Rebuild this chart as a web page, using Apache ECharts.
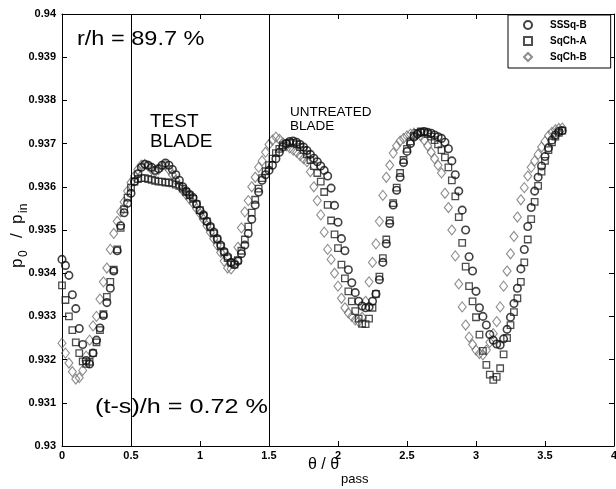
<!DOCTYPE html>
<html><head><meta charset="utf-8">
<script src="https://cdn.jsdelivr.net/npm/echarts@6/dist/echarts.min.js"></script>
<style>html,body{margin:0;padding:0;background:#fff}#c{width:616px;height:489px}</style>
</head><body><div id="c"></div>
<script>
// theta / theta_pass sample positions
const theta = [
0,0.025,0.05,0.075,0.1,0.125,0.15,0.175,0.2,0.225,
0.25,0.275,0.3,0.325,0.35,0.375,0.4,0.425,0.45,0.475,
0.5,0.525,0.55,0.575,0.6,0.625,0.65,0.675,0.7,0.725,
0.75,0.775,0.8,0.825,0.85,0.875,0.9,0.925,0.95,0.975,
1,1.025,1.05,1.075,1.1,1.125,1.15,1.175,1.2,1.225,
1.25,1.275,1.3,1.325,1.35,1.375,1.4,1.425,1.45,1.475,
1.5,1.525,1.55,1.575,1.6,1.625,1.65,1.675,1.7,1.725,
1.75,1.775,1.8,1.825,1.85,1.875,1.9,1.925,1.95,1.975,
2,2.025,2.05,2.075,2.1,2.125,2.15,2.175,2.2,2.225,
2.25,2.275,2.3,2.325,2.35,2.375,2.4,2.425,2.45,2.475,
2.5,2.525,2.55,2.575,2.6,2.625,2.65,2.675,2.7,2.725,
2.75,2.775,2.8,2.825,2.85,2.875,2.9,2.925,2.95,2.975,
3,3.025,3.05,3.075,3.1,3.125,3.15,3.175,3.2,3.225,
3.25,3.275,3.3,3.325,3.35,3.375,3.4,3.425,3.45,3.475,
3.5,3.525,3.55,3.575,3.6,3.625];

// p0/pin, SSSq-B (circles)
const sssqB = [
0.93432,0.93418,0.93395,0.93350,0.93318,0.93272,0.93235,0.93198,0.93190,0.93215,
0.93245,0.93273,0.93302,0.93332,0.93365,0.93405,0.93452,0.93510,0.93540,0.93562,
0.93585,0.93612,0.93630,0.93645,0.93652,0.93650,0.93645,0.93638,0.93642,0.93650,
0.93655,0.93650,0.93640,0.93628,0.93615,0.93600,0.93590,0.93582,0.93575,0.93560,
0.93545,0.93535,0.93520,0.93508,0.93495,0.93480,0.93465,0.93450,0.93438,0.93425,
0.93420,0.93428,0.93445,0.93465,0.93492,0.93525,0.93558,0.93588,0.93615,0.93628,
0.93638,0.93650,0.93665,0.93680,0.93692,0.93700,0.93705,0.93706,0.93703,0.93698,
0.93692,0.93684,0.93675,0.93666,0.93658,0.93648,0.93638,0.93625,0.93597,0.93557,
0.93518,0.93480,0.93452,0.93408,0.93378,0.93355,0.93335,0.93324,0.93320,0.93322,
0.93335,0.93352,0.93385,0.93425,0.93468,0.93515,0.93558,0.93592,0.93622,0.93656,
0.93682,0.93700,0.93715,0.93722,0.93726,0.93728,0.93726,0.93724,0.93720,0.93716,
0.93712,0.93703,0.93688,0.93660,0.93628,0.93590,0.93546,0.93500,0.93438,0.93405,
0.93358,0.93320,0.93300,0.93280,0.93258,0.93245,0.93236,0.93234,0.93248,0.93270,
0.93298,0.93330,0.93365,0.93410,0.93455,0.93508,0.93552,0.93590,0.93622,0.93648,
0.93670,0.93690,0.93708,0.93720,0.93728,0.93730];

// p0/pin, SqCh-A (squares)
const sqchA = [
0.93372,0.93338,0.93300,0.93268,0.93240,0.93215,0.93196,0.93190,0.93195,0.93215,
0.93240,0.93268,0.93305,0.93345,0.93380,0.93408,0.93455,0.93505,0.93548,0.93575,
0.93598,0.93612,0.93618,0.93620,0.93620,0.93618,0.93616,0.93614,0.93612,0.93612,
0.93610,0.93610,0.93608,0.93605,0.93602,0.93596,0.93588,0.93580,0.93572,0.93560,
0.93546,0.93533,0.93520,0.93506,0.93492,0.93478,0.93462,0.93448,0.93435,0.93424,
0.93420,0.93430,0.93452,0.93478,0.93508,0.93540,0.93570,0.93596,0.93620,0.93636,
0.93650,0.93665,0.93678,0.93688,0.93696,0.93700,0.93702,0.93701,0.93698,0.93692,
0.93685,0.93675,0.93662,0.93648,0.93632,0.93612,0.93588,0.93558,0.93522,0.93490,
0.93458,0.93420,0.93388,0.93358,0.93335,0.93312,0.93295,0.93283,0.93282,0.93295,
0.93320,0.93352,0.93392,0.93435,0.93478,0.93522,0.93562,0.93598,0.93632,0.93662,
0.93688,0.93705,0.93718,0.93725,0.93728,0.93726,0.93722,0.93716,0.93708,0.93698,
0.93685,0.93668,0.93645,0.93615,0.93578,0.93530,0.93470,0.93415,0.93370,0.93335,
0.93298,0.93258,0.93220,0.93188,0.93165,0.93153,0.93160,0.93180,0.93212,0.93250,
0.93280,0.93310,0.93342,0.93380,0.93425,0.93478,0.93525,0.93565,0.93602,0.93635,
0.93660,0.93685,0.93703,0.93716,0.93725,0.93730];

// p0/pin, SqCh-B (diamonds)
const sqchB = [
0.93238,0.93215,0.93192,0.93172,0.93155,0.93158,0.93175,0.93208,0.93245,0.93278,
0.93300,0.93340,0.93380,0.93412,0.93455,0.93492,0.93520,0.93542,0.93565,0.93590,
0.93610,0.93625,0.93640,0.93650,0.93652,0.93648,0.93640,0.93635,0.93640,0.93648,
0.93650,0.93640,0.93628,0.93615,0.93602,0.93592,0.93582,0.93572,0.93562,0.93550,
0.93538,0.93525,0.93510,0.93495,0.93480,0.93465,0.93448,0.93428,0.93412,0.93410,
0.93425,0.93460,0.93505,0.93542,0.93568,0.93600,0.93622,0.93645,0.93660,0.93680,
0.93698,0.93708,0.93715,0.93710,0.93702,0.93695,0.93690,0.93685,0.93680,0.93672,
0.93665,0.93658,0.93635,0.93600,0.93568,0.93535,0.93495,0.93455,0.93432,0.93400,
0.93370,0.93342,0.93320,0.93308,0.93300,0.93292,0.93288,0.93298,0.93335,0.93380,
0.93425,0.93468,0.93520,0.93580,0.93622,0.93650,0.93678,0.93695,0.93706,0.93712,
0.93718,0.93722,0.93724,0.93722,0.93718,0.93708,0.93695,0.93680,0.93665,0.93650,
0.93632,0.93585,0.93552,0.93500,0.93440,0.93375,0.93322,0.93280,0.93252,0.93235,
0.93222,0.93214,0.93211,0.93222,0.93240,0.93260,0.93288,0.93322,0.93370,0.93405,
0.93445,0.93485,0.93530,0.93570,0.93598,0.93625,0.93645,0.93660,0.93675,0.93692,
0.93705,0.93718,0.93726,0.93732,0.93735,0.93736];

const seriesNames = ['SSSq-B', 'SqCh-A', 'SqCh-B'];
const bladeEdges = [0.5, 1.5];
const xRange = [0, 4], xStep = 0.5;
const yRange = [0.93, 0.94], yStep = 0.001;

const pairs = arr => theta.map((t, i) => [t, arr[i]]);
const FONT = 'Liberation Sans, Arial, Helvetica, sans-serif';

const chart = echarts.init(document.getElementById('c'), null, {renderer: 'canvas'});
const baseAxis = {
  type: 'value',
  axisLine: {show: true, onZero: false, lineStyle: {color: '#000', width: 1}},
  axisTick: {show: true, inside: true, length: 5, lineStyle: {color: '#000', width: 1}},
  splitLine: {show: false}
};
const txt = (text, x, y, size, extra) => ({
  type: 'text', x: x, y: y,
  style: Object.assign({text: text, fontSize: size, fontFamily: FONT, fill: '#000', textVerticalAlign: 'middle'}, extra || {})
});
chart.setOption({
  animation: false,
  backgroundColor: '#fff',
  grid: {left: 62, right: 2, top: 14, bottom: 43, containLabel: false, outerBoundsMode: 'none'},
  legend: {
    data: seriesNames,
    orient: 'vertical',
    left: 508, top: 15,
    padding: [5, 24, 6, 15],
    itemGap: 6,
    itemWidth: 8, itemHeight: 8,
    borderColor: '#000', borderWidth: 1,
    backgroundColor: '#fff',
    textStyle: {fontSize: 10, fontWeight: 'bold', fontFamily: FONT, color: '#000', padding: [0, 0, 0, 13]}
  },
  xAxis: [
    Object.assign({}, baseAxis, {
      min: xRange[0], max: xRange[1], interval: xStep, position: 'bottom',
      axisLabel: {color: '#000', fontSize: 11, fontWeight: 'bold', fontFamily: FONT, margin: 4}
    }),
    Object.assign({}, baseAxis, {min: xRange[0], max: xRange[1], interval: xStep, position: 'top', axisLabel: {show: false}})
  ],
  yAxis: [
    Object.assign({}, baseAxis, {
      min: yRange[0], max: yRange[1], interval: yStep, position: 'left',
      axisLabel: {color: '#000', fontSize: 11, fontWeight: 'bold', fontFamily: FONT, margin: 6,
        formatter: v => String(+v.toFixed(3))}
    }),
    Object.assign({}, baseAxis, {min: yRange[0], max: yRange[1], interval: yStep, position: 'right', axisLabel: {show: false}})
  ],
  series: [
    {
      name: seriesNames[2], type: 'scatter', data: pairs(sqchB),
      symbol: 'diamond', symbolSize: [8, 10],
      itemStyle: {color: 'rgba(0,0,0,0)', borderColor: '#707070', borderWidth: 1.1}
    },
    {
      name: seriesNames[1], type: 'scatter', data: pairs(sqchA),
      symbol: 'rect', symbolSize: 6.5,
      itemStyle: {color: 'rgba(0,0,0,0)', borderColor: '#222', borderWidth: 1.3}
    },
    {
      name: seriesNames[0], type: 'scatter', data: pairs(sssqB),
      symbol: 'circle', symbolSize: 7.5,
      itemStyle: {color: 'rgba(0,0,0,0)', borderColor: '#111', borderWidth: 1.6},
      markLine: {
        silent: true, symbol: 'none', label: {show: false},
        lineStyle: {color: '#000', type: 'solid', width: 1},
        data: bladeEdges.map(v => ({xAxis: v}))
      }
    }
  ],
  graphic: [
    // x axis title: θ / θ_pass
    txt('θ / θ', 308, 465, 16),
    txt('pass', 341, 479, 13),
    // y axis title: p_0 / p_in (rotated)
    {type: 'group', x: 17, y: 268, rotation: Math.PI / 2, children: [
      txt('p', 0, 0, 17),
      txt('0', 11, 7, 12),
      txt('/', 30, 0, 17),
      txt('p', 44, 0, 17),
      txt('in', 55, 7, 12)
    ]},
    Object.assign(txt('r/h = 89.7 %', 77, 39, 21), {scaleX: 1.12}),
    txt('TEST\nBLADE', 150, 132, 19, {lineHeight: 20}),
    txt('UNTREATED\nBLADE', 290, 119, 13.5, {lineHeight: 14}),
    Object.assign(txt('(t-s)/h = 0.72 %', 95, 407, 21), {scaleX: 1.2})
  ]
});
</script>
</body></html>
